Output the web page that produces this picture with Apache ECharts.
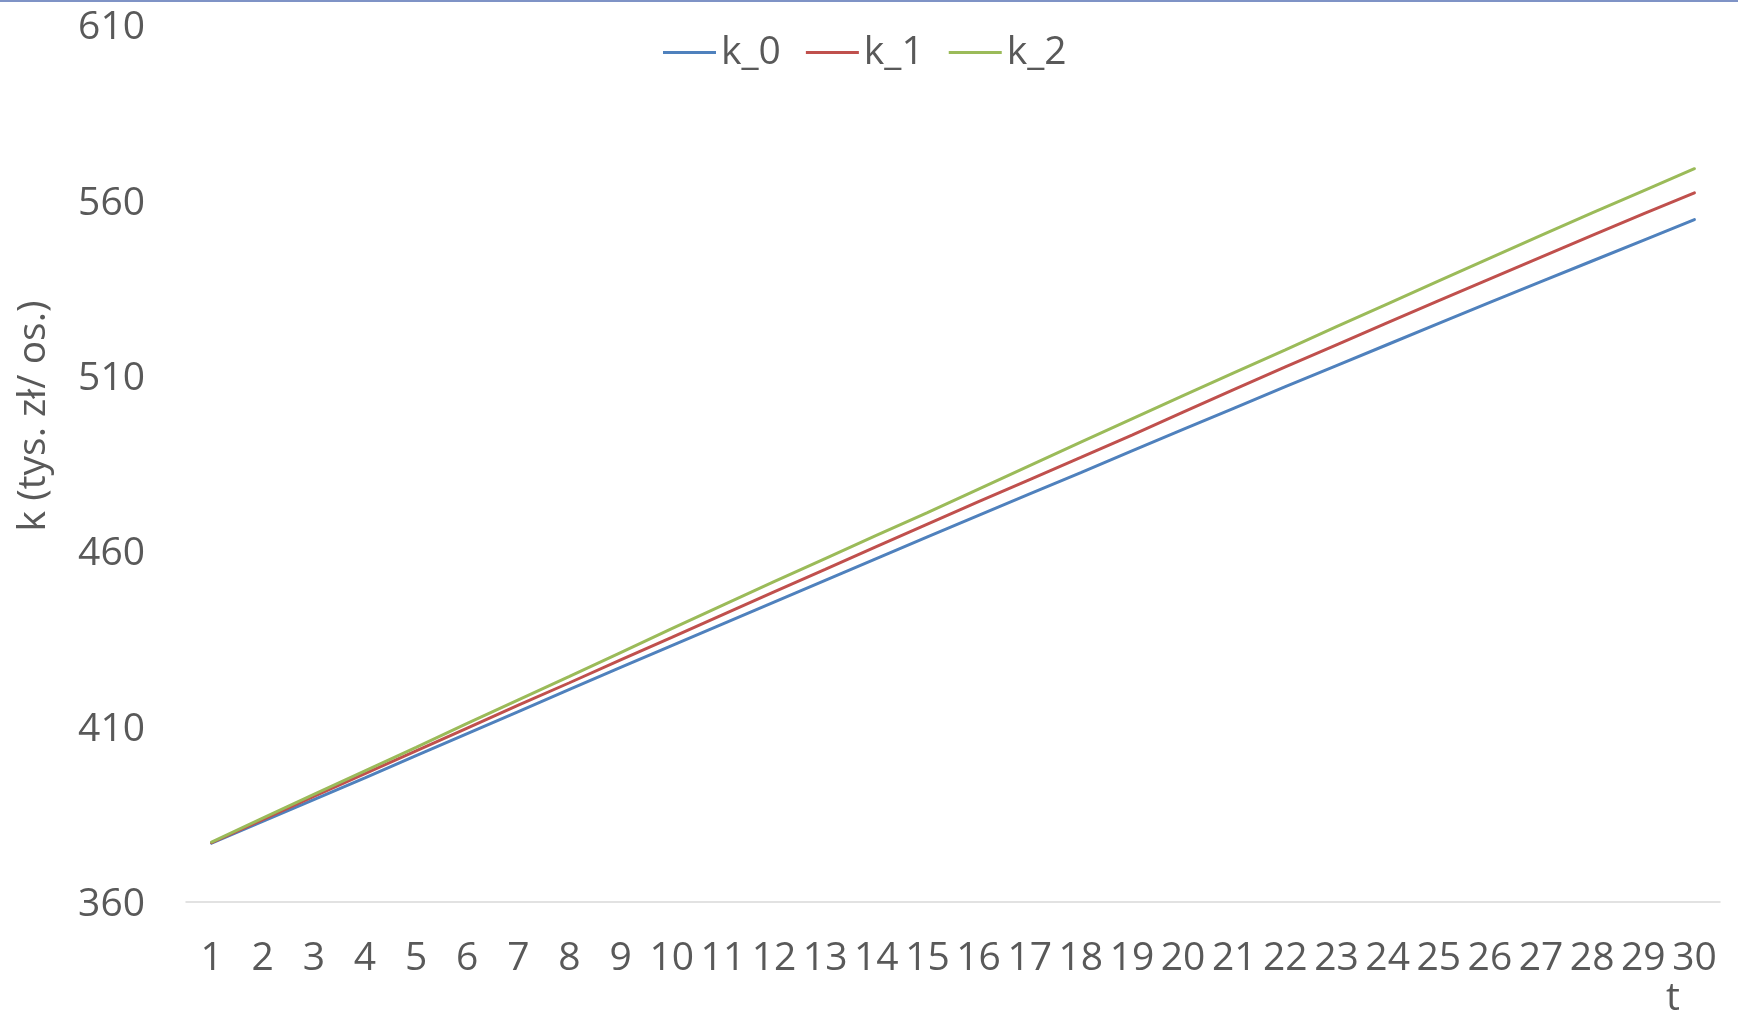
<!DOCTYPE html>
<html>
<head>
<meta charset="utf-8">
<title>k_0, k_1, k_2</title>
<script src="https://cdn.jsdelivr.net/npm/echarts@6/dist/echarts.min.js"></script>
<style>
  html, body { margin: 0; padding: 0; background: #ffffff; }
  #chart { width: 1738px; height: 1013px; }
</style>
</head>
<body>
<div id="chart"></div>
<script>
// Periods t = 1 .. 30
const periods = [1, 2, 3, 4, 5, 6, 7, 8, 9, 10, 11, 12, 13, 14, 15,
                 16, 17, 18, 19, 20, 21, 22, 23, 24, 25, 26, 27, 28, 29, 30];

// Capital per worker (thousand zł per person) for the three scenarios
const k0 = [376.7, 382.9, 389.1, 395.3, 401.6, 407.9, 414.2, 420.5, 426.8, 433.0,
            439.2, 445.4, 451.6, 457.8, 464.0, 470.1, 476.2, 482.3, 488.5, 494.6,
            500.7, 506.8, 512.8, 518.8, 524.8, 530.8, 536.7, 542.6, 548.5, 554.4];
const k1 = [376.8, 383.4, 390.0, 396.5, 403.0, 409.5, 416.0, 422.4, 428.9, 435.3,
            441.8, 448.3, 454.7, 461.2, 467.6, 474.0, 480.3, 486.6, 493.0, 499.5,
            506.0, 512.4, 518.7, 525.0, 531.3, 537.5, 543.7, 549.9, 556.0, 562.0];
const k2 = [377.0, 383.8, 390.6, 397.3, 404.0, 410.8, 417.5, 424.2, 431.0, 437.8,
            444.5, 451.2, 457.8, 464.4, 470.9, 477.6, 484.3, 491.0, 497.6, 504.2,
            510.8, 517.3, 523.9, 530.4, 536.9, 543.4, 549.9, 556.3, 562.6, 568.9];

const seriesNames = ['k_0', 'k_1', 'k_2'];
const seriesColors = ['#4F81BD', '#C0504D', '#9BBB59'];

// Value axis range
const yMin = 360;
const yMax = 610;
const yStep = 50;

const yAxisTitle = 'k (tys. zł/ os.)';
const xAxisTitle = 't';

const FONT = '"Open Sans", "Noto Sans", sans-serif';
const TEXT_COLOR = '#595959';

const chart = echarts.init(document.getElementById('chart'), null, { renderer: 'canvas' });

function lineSeries(name, data, color) {
  return {
    name: name,
    type: 'line',
    data: data,
    symbol: 'none',
    smooth: false,
    color: color,
    lineStyle: { width: 3, color: color, cap: 'round' },
    emphasis: { disabled: true }
  };
}

chart.setOption({
  animation: false,
  backgroundColor: '#ffffff',
  textStyle: { fontFamily: FONT },
  grid: {
    left: 186,
    right: 18,
    top: 24.5,
    bottom: 111.3,
    containLabel: false,
    outerBoundsMode: 'none'
  },
  legend: {
    data: seriesNames,
    top: 28,
    left: 658,
    icon: 'rect',
    itemWidth: 53,
    itemHeight: 3,
    itemGap: 25,
    textStyle: { fontSize: 39, color: TEXT_COLOR, fontFamily: FONT },
    selectedMode: false
  },
  xAxis: {
    type: 'category',
    data: periods,
    boundaryGap: true,
    axisLine: { show: true, lineStyle: { color: '#D9D9D9', width: 1.5 } },
    axisTick: { show: false },
    axisLabel: { interval: 0, margin: 38, fontSize: 39, color: TEXT_COLOR, fontFamily: FONT },
    splitLine: { show: false }
  },
  yAxis: {
    type: 'value',
    min: yMin,
    max: yMax,
    interval: yStep,
    axisLine: { show: false },
    axisTick: { show: false },
    axisLabel: {
      margin: 41,
      color: TEXT_COLOR,
      fontFamily: FONT,
      fontSize: 39,
      formatter: '{v|{value}}',
      rich: {
        v: { fontSize: 39, fontFamily: FONT, color: TEXT_COLOR, padding: [7, 0, 0, 0] }
      }
    },
    splitLine: { show: false }
  },
  graphic: [
    {
      type: 'rect',
      left: 0, top: 0,
      shape: { x: 0, y: 0, width: 1738, height: 2 },
      style: { fill: '#7F93C6' },
      silent: true
    },
    {
      type: 'text',
      x: 34, y: 416,
      rotation: Math.PI / 2,
      style: {
        text: yAxisTitle,
        fontSize: 39,
        fontFamily: FONT,
        fill: TEXT_COLOR,
        align: 'center',
        verticalAlign: 'middle'
      },
      silent: true
    },
    {
      type: 'text',
      x: 1673, y: 999,
      style: {
        text: xAxisTitle,
        fontSize: 39,
        fontFamily: FONT,
        fill: TEXT_COLOR,
        align: 'center',
        verticalAlign: 'middle'
      },
      silent: true
    }
  ],
  series: [
    lineSeries(seriesNames[0], k0, seriesColors[0]),
    lineSeries(seriesNames[1], k1, seriesColors[1]),
    lineSeries(seriesNames[2], k2, seriesColors[2])
  ]
});
</script>
</body>
</html>
